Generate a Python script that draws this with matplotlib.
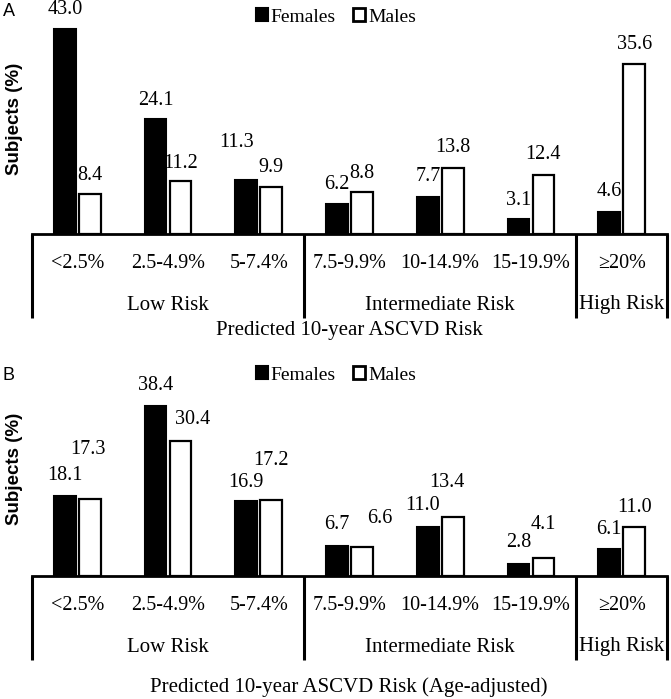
import matplotlib
matplotlib.use("Agg")
import matplotlib.pyplot as plt
import numpy as np
from matplotlib.patches import Patch

plt.rcParams['font.family'] = ['Liberation Serif', 'DejaVu Serif']

# data
categories = ["<2.5%", "2.5-4.9%", "5-7.4%", "7.5-9.9%", "10-14.9%", "15-19.9%", "≥20%"]
risk_groups = ["Low Risk", "Intermediate Risk", "High Risk"]
group_sizes = [3, 3, 1]

females_a = [43.0, 24.1, 11.3, 6.2, 7.7, 3.1, 4.6]
males_a = [8.4, 11.2, 9.9, 8.8, 13.8, 12.4, 35.6]
females_b = [18.1, 38.4, 16.9, 6.7, 11.0, 2.8, 6.1]
males_b = [17.3, 30.4, 17.2, 6.6, 13.4, 4.1, 11.0]

# label offsets (dx, dy) in pixels relative to bar top, just layout
off_fa = [(0, 19), (0, 19), (-10, 38), (0, 20), (1, 21), (0, 19), (0, 21)]
off_ma = [(0, 18), (0, 17), (0, 19), (0, 19), (0, 21), (0, 20), (0, 20)]
off_fb = [(0, 20), (0, 20), (0, 19), (0, 22), (-5, 22), (0, 21), (0, 19)]
off_mb = [(-2, 50), (12, 22), (0, 39), (18, 28), (-6, 34), (0, 33), (0, 20)]

W, H = 671, 699
fig = plt.figure(figsize=(W / 100, H / 100), dpi=100)

def fx(px):
    return px / W

def fy(py):
    return 1 - py / H

x = np.arange(len(categories))
bw = 0.24
sh = 0.138

def panel(letter, fem, mal, offf, offm, top, base, scale, tab_bottom, tick_y, grp_y, title_y, title, letter_y):
    ax = fig.add_axes([fx(32), fy(base), fx(667) - fx(32), (base - top) / H])
    ax.bar(x - sh, fem, bw, color="black", edgecolor="black", linewidth=1.5)
    ax.bar(x + sh, mal, bw, color="white", edgecolor="black", linewidth=1.6)
    ax.set_xlim(-0.5, len(categories) - 0.5)
    ax.set_ylim(0, (base - top) / scale)
    for s in ["top", "left", "right"]:
        ax.spines[s].set_visible(False)
    ax.spines["bottom"].set_linewidth(2)
    ax.set_xticks([])
    ax.set_yticks([])
    for i in range(len(categories)):
        ax.annotate(f"{fem[i]:.1f}", (x[i] - sh, fem[i]), xytext=(offf[i][0] * 0.72, offf[i][1] * 0.72),
                    textcoords="offset points", ha="center", va="center", fontsize=14.5,
                    annotation_clip=False)
        ax.annotate(f"{mal[i]:.1f}", (x[i] + sh, mal[i]), xytext=(offm[i][0] * 0.72, offm[i][1] * 0.72),
                    textcoords="offset points", ha="center", va="center", fontsize=14.5,
                    annotation_clip=False)

    # table below the axis
    tab_h = tab_bottom - base
    tb = fig.add_axes([fx(32), fy(tab_bottom), fx(667) - fx(32), tab_h / H])
    tb.set_xlim(-0.5, len(categories) - 0.5)
    tb.set_ylim(tab_h, 0)
    tb.axis("off")
    edges = np.concatenate([[0], np.cumsum(group_sizes)]) - 0.5
    tb.vlines(edges, 0, tab_h, color="black", linewidth=2.2, clip_on=False)
    for i, c in enumerate(categories):
        tb.text(x[i], tick_y - base, c, ha="center", va="center", fontsize=14.5)
    for j, g in enumerate(risk_groups):
        tb.text((edges[j] + edges[j + 1]) / 2, grp_y - base, g, ha="center", va="center", fontsize=15)
    fig.text(fx(349), fy(title_y), title, ha="center", va="center", fontsize=15)

    fig.text(fx(15), fy(top + (base - top) * 0.5 - 3), "Subjects (%)", rotation=90, ha="center", va="center",
             fontsize=13.5, fontweight="bold", family=["Liberation Sans", "DejaVu Sans"])
    fig.text(fx(3), fy(letter_y), letter, ha="left", va="center", fontsize=13,
             family=["Liberation Sans", "DejaVu Sans"])
    handles = [Patch(facecolor="black", edgecolor="black", linewidth=1.5),
               Patch(facecolor="white", edgecolor="black", linewidth=2)]
    fig.legend(handles, ["Females", "Males"], loc="center", bbox_to_anchor=(fx(336), fy(top + 7)),
               ncol=2, frameon=False, fontsize=14, handlelength=0.62, handleheight=0.62,
               handletextpad=0.15, columnspacing=0.9, borderpad=0)
    return ax

panel("A", females_a, males_a, off_fa, off_ma, 10, 234, 4.77, 318, 263, 305, 330,
      "Predicted 10-year ASCVD Risk", 12)
panel("B", females_b, males_b, off_fb, off_mb, 368, 576, 4.43, 660, 605, 647, 687,
      "Predicted 10-year ASCVD Risk (Age-adjusted)", 375)

fig.savefig("out.png", dpi=100)
